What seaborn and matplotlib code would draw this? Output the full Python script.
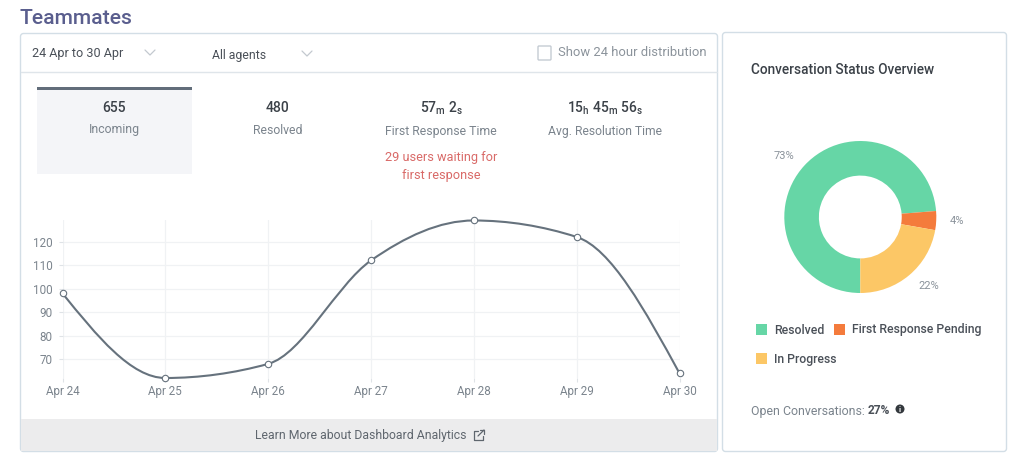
import numpy as np
import pandas as pd
import matplotlib
matplotlib.use('Agg')
import matplotlib.pyplot as plt
from matplotlib.patches import Rectangle, FancyBboxPatch, PathPatch, Circle
from matplotlib.path import Path
import seaborn as sns

# values
days = ['Apr 24', 'Apr 25', 'Apr 26', 'Apr 27', 'Apr 28', 'Apr 29', 'Apr 30']
incoming = [98, 62, 68, 112, 129, 122, 64]
y_ticks = [70, 80, 90, 100, 110, 120]

status_labels = ['Resolved', 'First Response Pending', 'In Progress']
status_values = [73, 4, 22]
status_colors = ['#66d6a6', '#f47b3c', '#fcc766']
status_text = ['73%', '4%', '22%']

W, H = 1024, 469
GRAY = '#7b848d'
DARK = '#3b4148'
LINE = '#66727d'

sns.set_theme(style='white')
plt.rcParams['font.family'] = ['Roboto', 'DejaVu Sans']

fig = plt.figure(figsize=(W / 100, H / 100), dpi=100, facecolor='white')

# full size axes in pixels for the dashboard furniture
bg = fig.add_axes([0, 0, 1, 1], zorder=0)
bg.set_xlim(0, W)
bg.set_ylim(H, 0)
bg.axis('off')


def txt(x, y, s, size=8.5, color=GRAY, ha='center', weight='normal', **kw):
    return bg.text(x, y, s, fontsize=size, color=color, ha=ha, va='center', fontweight=weight, **kw)


def chevron(x, y):
    bg.plot([x - 5, x, x + 5], [y - 3, y + 2, y - 3], color='#c3c9cf', lw=0.9)


# left card
bg.add_patch(FancyBboxPatch((20.5, 33.5), 697, 418, boxstyle='round,pad=0,rounding_size=3',
                            fc='white', ec='#d3dee6', lw=1))
bg.add_patch(Rectangle((21, 419), 696, 32, fc='#ececed', ec='none'))
bg.plot([21, 717], [72.5, 72.5], color='#dfe5ea', lw=1)
bg.add_patch(Rectangle((37, 88), 155, 86, fc='#f4f5f8', ec='none'))
bg.add_patch(Rectangle((37, 87), 155, 3, fc='#626d7a', ec='none'))

txt(20, 18, 'Teammates', size=15.2, color='#5a5e8e', ha='left', weight='medium')
txt(32, 54, '24 Apr to 30 Apr', size=9.1, color='#4a5058', ha='left')
chevron(150, 53)
txt(212, 56, 'All agents', size=8.8, color='#4a5058', ha='left')
chevron(307, 54)
bg.add_patch(FancyBboxPatch((538, 46), 13, 14, boxstyle='round,pad=0,rounding_size=1',
                            fc='white', ec='#c5ccd3', lw=1))
txt(558, 53, 'Show 24 hour distribution', size=9.4, color='#8b939b', ha='left')

# stat tiles
txt(114.5, 108, '655', size=10, color=DARK, weight='medium')
txt(114.5, 130, 'Incoming', size=8.8)
txt(277.5, 108, '480', size=10, color=DARK, weight='medium')
txt(277.5, 130, 'Resolved', size=8.8)
txt(441, 108, '57$\\mathregular{_{m}}$ 2$\\mathregular{_{s}}$', size=10, color=DARK, weight='medium')
txt(441, 132, 'First Response Time', size=8.8)
txt(441, 157, '29 users waiting for', size=9.2, color='#d96a68')
txt(441, 176, 'first response', size=9.2, color='#d96a68')
txt(605, 108, '15$\\mathregular{_{h}}$ 45$\\mathregular{_{m}}$ 56$\\mathregular{_{s}}$', size=10, color=DARK, weight='medium')
txt(605, 132, 'Avg. Resolution Time', size=8.7)

# footer link
txt(361, 435, 'Learn More about Dashboard Analytics', size=8.8, color='#5f666e')
bg.plot([478, 474, 474, 483, 483], [431, 431, 440, 440, 436], color='#5f666e', lw=0.9)
bg.plot([478, 484], [436, 430], color='#5f666e', lw=0.9)
bg.plot([480, 484, 484], [430, 430, 434], color='#5f666e', lw=0.9)

# right card
bg.add_patch(FancyBboxPatch((722.5, 32.5), 284, 419, boxstyle='round,pad=0,rounding_size=3',
                            fc='white', ec='#d3dee6', lw=1))
txt(751, 70, 'Conversation Status Overview', size=9.8, color=DARK, ha='left', weight='medium')

# line chart
left, right, top, bottom = 62.5, 679.5, 220.5, 378
ax = fig.add_axes([left / W, 1 - bottom / H, (right - left) / W, (bottom - top) / H], zorder=2)
ax.patch.set_alpha(0)
df = pd.DataFrame({'day': days, 'incoming': incoming})

# straight segments hidden, seaborn draws the points, the smooth curve goes under them
sns.lineplot(data=df, x='day', y='incoming', sort=False, ax=ax, linestyle='none', marker='o',
             markersize=4.6, markerfacecolor='white', markeredgecolor=LINE, markeredgewidth=0.8,
             color=LINE, clip_on=False, zorder=5)
ax.set_xlim(0, len(days) - 1)
ax.set_ylim(62, 129)


# monotone cubic, same kind of smoothing the dashboard chart uses
def monotone_path(ys):
    ys = np.asarray(ys, dtype=float)
    s = np.diff(ys)
    t = np.zeros(len(ys))
    for i in range(1, len(ys) - 1):
        p = (s[i - 1] + s[i]) / 2
        t[i] = (np.sign(s[i - 1]) + np.sign(s[i])) * min(abs(s[i - 1]), abs(s[i]), 0.5 * abs(p))
    t[0] = (3 * s[0] - t[1]) / 2
    t[-1] = (3 * s[-1] - t[-2]) / 2
    verts = [(0, ys[0])]
    codes = [Path.MOVETO]
    for i in range(len(ys) - 1):
        verts += [(i + 1 / 3, ys[i] + t[i] / 3), (i + 2 / 3, ys[i + 1] - t[i + 1] / 3), (i + 1, ys[i + 1])]
        codes += [Path.CURVE4] * 3
    return Path(verts, codes)


ax.add_patch(PathPatch(monotone_path(incoming), fc='none', ec=LINE, lw=1.5, clip_on=False, zorder=4))

ax.set_yticks(y_ticks)
ax.grid(True, color='#f0f2f4', lw=0.9)
ax.set_axisbelow(True)
sns.despine(ax=ax, left=True, bottom=True)
ax.set_xlabel('')
ax.set_ylabel('')
ax.tick_params(axis='y', length=3, width=0.8, color='#dfe3e7', labelcolor=GRAY, labelsize=8.4, pad=4, left=True)
ax.tick_params(axis='x', length=3, width=0.8, color='#dfe3e7', labelcolor=GRAY, labelsize=8.4, pad=2, bottom=True)

# donut
cx, cy, R = 860.3, 217, 76
ax2 = fig.add_axes([(cx - R) / W, 1 - (cy + R) / H, 2 * R / W, 2 * R / H], zorder=2)
ax2.pie(status_values, colors=status_colors, startangle=270, counterclock=False, radius=1,
        wedgeprops={'width': 0.455, 'linewidth': 0})
ax2.set_xlim(-1, 1)
ax2.set_ylim(-1, 1)

for (x, y), s in zip([(784, 156), (957, 221), (929, 286)], status_text):
    txt(x, y, s, size=8, color='#8b939b')

# legend
legend_pos = [(756, 329), (834, 329), (756, 358)]
for (x, y), lab, col in zip(legend_pos, status_labels, status_colors):
    bg.add_patch(Rectangle((x, y - 5), 11, 11, fc=col, ec='none'))
    txt(x + 18, y + 1, lab, size=8.8, color='#4a5058', ha='left', weight='medium')

# open conversations line
txt(751, 411, 'Open Conversations:', size=8.9, color=GRAY, ha='left')
txt(868, 411, '27%', size=8.6, color='#4a5058', ha='left', weight='bold')
bg.add_patch(Circle((900, 409), 4.5, fc='#33383d', ec='none'))
txt(900, 409, 'i', size=5.5, color='white', weight='bold')

plt.savefig('out.png', dpi=100)
